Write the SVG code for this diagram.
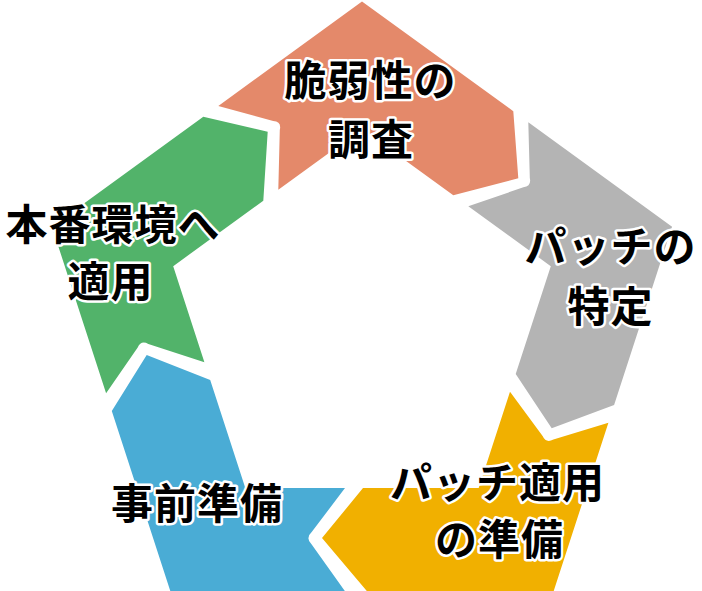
<svg xmlns="http://www.w3.org/2000/svg" width="702" height="591" viewBox="0 0 702 591">
<style>
.seg{stroke:none}
.lbl{font-family:"Noto Sans CJK JP","Noto Sans",sans-serif;font-size:42px;font-weight:700;fill:#000;stroke:#fff;stroke-width:5px;stroke-linejoin:round;paint-order:stroke;text-anchor:middle;letter-spacing:1px}
</style>
<rect width="702" height="591" fill="#fff"/>
<g id="step1">
<path class="seg" fill="#E4896A" d="M362,1.5 L513.3,111.2 L518.3,178.3 L453.3,195.2 L362,129 L278.3,189.8 L279.8,130 Q281.8,121.7 273.2,121.1 L218.3,105.9 Z"/>
<text class="lbl" x="370.5" y="96">脆弱性の</text>
<text class="lbl" x="371" y="155">調査</text>
</g>
<g id="step2">
<path class="seg" fill="#B4B4B4" d="M528.3,122.3 L672.05,226.76 L614.1,405 L551.7,428.3 L515.7,374 L550.79,266.16 L468.3,206.2 L523.4,187.3 Q531.7,186.2 529.8,178 Z"/>
<text class="lbl" x="610.5" y="262">パッチの</text>
<text class="lbl" x="610.5" y="322">特定</text>
</g>
<g id="step3">
<path class="seg" fill="#F1B000" d="M608.4,422.7 L553.62,591.24 L367,591.24 L322,538 L363,488.09 L478.68,488.09 L510,391.7 L542.6,436.1 Q546.05,443.6 553.4,439.6 Z"/>
<text class="lbl" x="497.5" y="498">パッチ適用</text>
<text class="lbl" x="499.5" y="555">の準備</text>
</g>
<g id="step4">
<path class="seg" fill="#4AACD5" d="M345,591.24 L170.38,591.24 L111.8,411 L146.7,355 L210.2,380 L245.32,488.09 L345,488.09 L311.9,531.7 Q305,538 311.7,544.5 Z"/>
<text class="lbl" x="197" y="519">事前準備</text>
</g>
<g id="step5">
<path class="seg" fill="#52B36A" d="M106.1,393.3 L51.95,226.76 L203.3,116.8 L267.7,131.7 L263.3,200.7 L173.21,266.16 L204.4,362.3 L148.35,343.9 Q141.05,339.7 137.7,347.5 Z"/>
<text class="lbl" x="113" y="240">本番環境へ</text>
<text class="lbl" x="110.5" y="297">適用</text>
</g>
<g id="connectors"/>
</svg>
